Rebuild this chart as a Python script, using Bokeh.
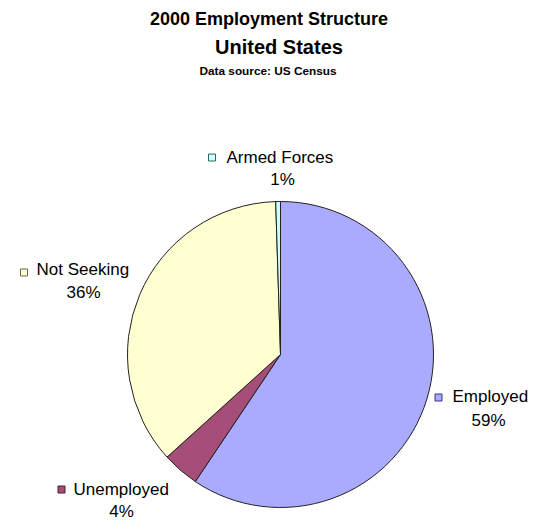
import math
from bokeh.plotting import figure
from bokeh.models import Range1d, ColumnDataSource
from bokeh.core.properties import value
from bokeh.embed import file_html
from bokeh.resources import INLINE

# ---- data ----
categories = ["Employed", "Unemployed", "Not Seeking", "Armed Forces"]
shares = [59.4, 3.9, 36.2, 0.5]
colors = ["#aaaaff", "#a64d79", "#ffffd2", "#ccffff"]
key_lines = ["#333399", "#4d1a33", "#66664d", "#2d6666"]
pct_labels = [f"{int(s + 0.5)}%" for s in shares]

title1 = "2000 Employment Structure"
title2 = "United States"
title3 = "Data source: US Census"

# ---- layout (screen px; y converted to up-axis) ----
W, H = 533, 520
TOFF = 6  # baseline compensation for text rendering
def Y(ys):
    return H - ys

def YT(ys):
    return H - (ys - TOFF)

cx, cy, R = 280, 354, 153
# label anchors: (key box center x, key box center y, name left x, name baseline, pct center x, pct baseline)
label_pos = [
    (438, 397, 452, 402, 488, 426),
    (61, 489, 73, 495, 121, 517),
    (23.5, 272, 36, 275, 83, 298),
    (211.5, 157, 226, 163, 282, 185),
]

p = figure(width=W, height=H, output_backend="svg", toolbar_location=None,
           x_range=Range1d(0, W), y_range=Range1d(0, H),
           x_axis_location=None, y_axis_location=None,
           min_border=0, min_border_left=0, min_border_right=0,
           min_border_top=0, min_border_bottom=0)
p.grid.visible = False
p.outline_line_color = None
p.background_fill_color = "white"
p.border_fill_color = "white"

total = sum(shares)
starts, ends = [], []
cum = 0.0
for s in shares:
    starts.append(math.pi / 2 - 2 * math.pi * cum / total)
    cum += s
    ends.append(math.pi / 2 - 2 * math.pi * cum / total)

src = ColumnDataSource(dict(cat=categories, start=starts, end=ends, color=colors))
p.wedge(x=cx, y=Y(cy), radius=R, start_angle="start", end_angle="end",
        direction="clock", fill_color="color", line_color="#222222",
        line_width=1, source=src)

font = value("Liberation Sans")

# titles
p.text(x=[268.5], y=[YT(24)], text=[title1], text_font=font, text_font_size="18px",
       text_font_style="bold", text_align="center", text_baseline="alphabetic",
       text_color="black")
p.text(x=[278.5], y=[YT(52)], text=[title2], text_font=font, text_font_size="20px",
       text_font_style="bold", text_align="center", text_baseline="alphabetic",
       text_color="black")
p.text(x=[267.5], y=[YT(76)], text=[title3], text_font=font, text_font_size="11.8px",
       text_font_style="bold", text_align="center", text_baseline="alphabetic",
       text_color="black")

# labels
for i, cat in enumerate(categories):
    kx, ky, nx, ny, px_, py_ = label_pos[i]
    p.rect(x=[kx], y=[Y(ky)], width=7, height=7, fill_color=colors[i],
           line_color=key_lines[i], line_width=1)
    p.text(x=[nx], y=[YT(ny)], text=[cat], text_font=font, text_font_size="17px",
           text_align="left", text_baseline="alphabetic", text_color="black")
    p.text(x=[px_], y=[YT(py_)], text=[pct_labels[i]], text_font=font,
           text_font_size="17px", text_align="center", text_baseline="alphabetic",
           text_color="black")

open("out.html", "w").write(file_html(p, INLINE))
